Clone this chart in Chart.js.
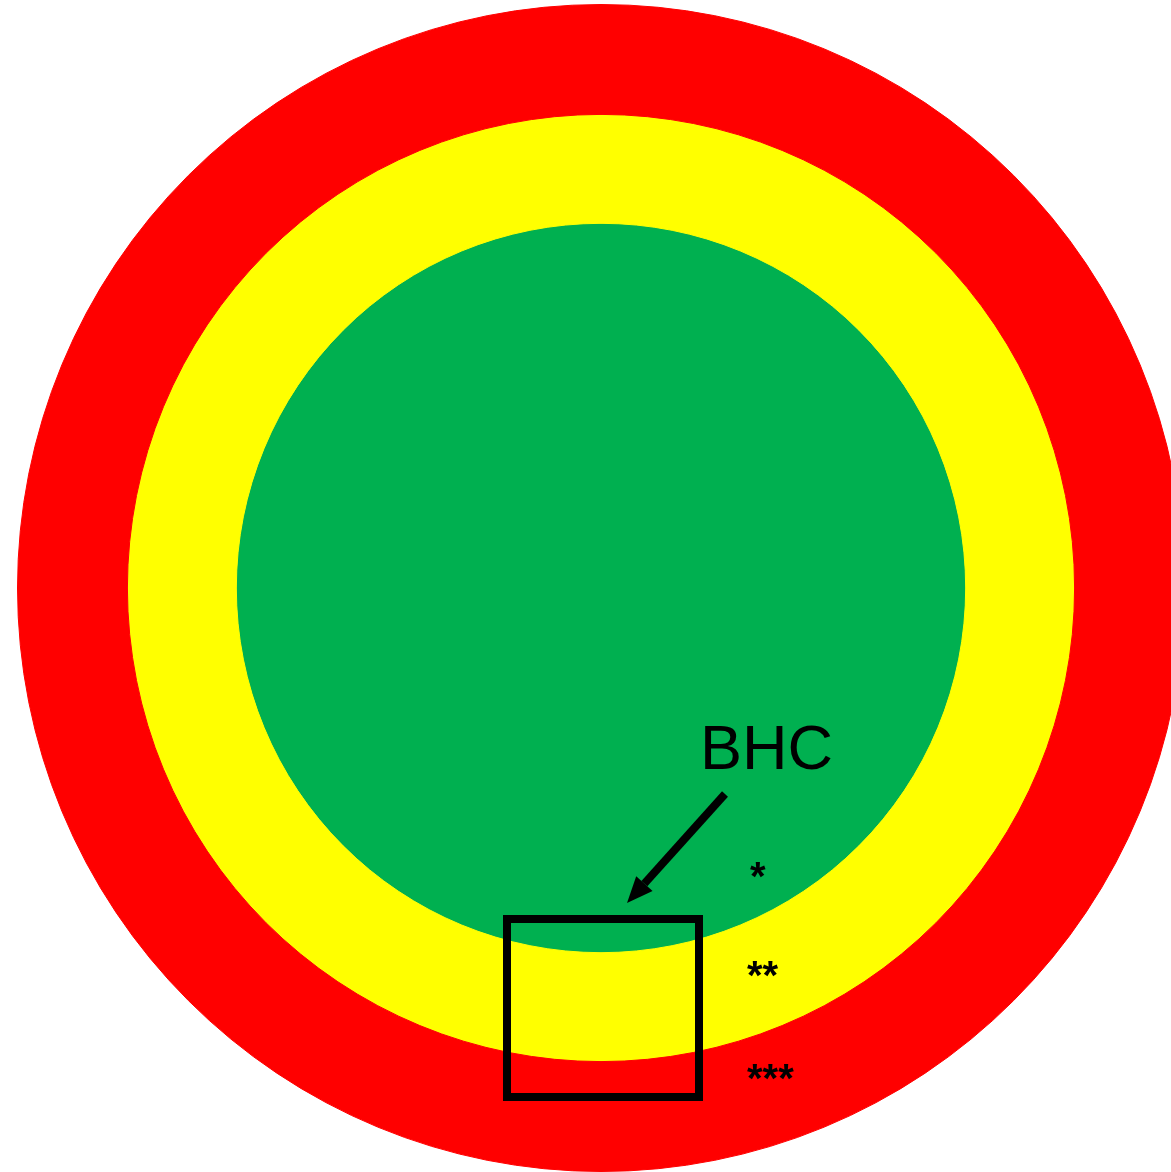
<!DOCTYPE html>
<html>
<head>
<meta charset="utf-8">
<script src="https://cdn.jsdelivr.net/npm/chart.js@4/dist/chart.umd.min.js"></script>
<style>
  html, body { margin: 0; padding: 0; background: #fff; overflow: hidden; }
  #wrap { position: relative; width: 1190px; height: 1180px; }
</style>
</head>
<body>
<div id="wrap"><canvas id="chart" width="1190" height="1180"></canvas></div>
<script>
// zones, outermost first
const zoneLabels = ['***', '**', '*'];
const zoneRadii = [584, 474, 365];
const zoneColors = ['#ff0000', '#ffff00', '#00b050'];
const markerLabel = 'BHC';

// ring thickness = difference between successive radii (inner disk keeps its full radius)
const zoneWeights = zoneRadii.map((r, i) => r - (zoneRadii[i + 1] || 0));

// text, arrow and box drawn over the rings
const overlay = {
  id: 'overlay',
  afterDraw(chart) {
    const ctx = chart.ctx;
    const meta = chart.getDatasetMeta(0);
    const cx = meta.data[0].x;
    ctx.save();
    ctx.fillStyle = '#000';
    ctx.strokeStyle = '#000';

    // star labels on the right, one per zone
    ctx.font = 'bold 40px "Liberation Sans", Arial, sans-serif';
    ctx.textAlign = 'left';
    ctx.textBaseline = 'alphabetic';
    const starY = [1092, 989, 890];
    const starX = [146, 146, 149];
    zoneLabels.forEach((lab, i) => ctx.fillText(lab, cx + starX[i], starY[i]));

    // BHC label
    ctx.font = '63px "Liberation Sans", Arial, sans-serif';
    ctx.fillText(markerLabel, cx + 99, 769);

    // arrow
    const x1 = cx + 124, y1 = 794, x2 = cx + 26, y2 = 903;
    const ang = Math.atan2(y2 - y1, x2 - x1);
    const headLen = 26, headW = 11;
    const bx = x2 - headLen * Math.cos(ang), by = y2 - headLen * Math.sin(ang);
    ctx.lineWidth = 8;
    ctx.beginPath();
    ctx.moveTo(x1, y1);
    ctx.lineTo(bx, by);
    ctx.stroke();
    ctx.beginPath();
    ctx.moveTo(x2, y2);
    ctx.lineTo(bx + headW * Math.sin(ang), by - headW * Math.cos(ang));
    ctx.lineTo(bx - headW * Math.sin(ang), by + headW * Math.cos(ang));
    ctx.closePath();
    ctx.fill();

    // box
    ctx.lineWidth = 8;
    ctx.strokeRect(cx - 94, 919, 192, 178);
    ctx.restore();
  }
};

new Chart(document.getElementById('chart'), {
  type: 'doughnut',
  data: {
    labels: [markerLabel],
    datasets: zoneLabels.map((lab, i) => ({
      label: lab,
      data: [1],
      weight: zoneWeights[i],
      backgroundColor: zoneColors[i],
      borderColor: zoneColors[i],
      borderWidth: 1,
      hoverOffset: 0
    }))
  },
  options: {
    responsive: false,
    animation: false,
    devicePixelRatio: 1,
    cutout: 0,
    layout: { padding: { left: 17, top: 4, right: 5, bottom: 8 } },
    plugins: { legend: { display: false }, tooltip: { enabled: false } },
    events: []
  },
  plugins: [overlay]
});
</script>
</body>
</html>
